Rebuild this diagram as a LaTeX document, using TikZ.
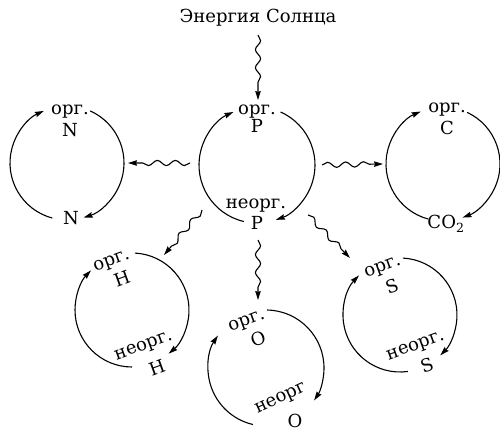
\documentclass[tikz,border=0pt]{standalone}
\usepackage{fontspec}
\setmainfont{DejaVu Serif}
\usetikzlibrary{arrows.meta,decorations.pathmorphing}
\begin{document}
\begin{tikzpicture}[x=1pt,y=1pt,
  lbl/.style={font=\fontsize{18}{20}\selectfont, inner sep=0pt},
  cyc/.style={line width=1.1pt, -{Stealth[length=9pt,width=5.5pt,inset=1pt]}},
  wave/.style={line width=1.1pt, decorate,
     decoration={snake, segment length=18pt, amplitude=2.6pt, post length=9pt},
     -{Stealth[length=9pt,width=5.5pt,inset=1pt]}}]
\useasboundingbox (0,0) rectangle (500,431);
% centres
\coordinate (cN) at (67,268);
\coordinate (cP) at (257,266);
\coordinate (cC) at (443,267);
\coordinate (cH) at (132,121);
\coordinate (cO) at (266,63);
\coordinate (cS) at (400,116);
% title
\node[lbl] (sun) at (258,413) {Энергия Солнца};
% N
\draw[cyc] (cN) ++(255:57) arc[start angle=255,end angle=114,radius=57];
\draw[cyc] (cN) ++(66:57) arc[start angle=66,end angle=-73,radius=57];
\node[lbl,anchor=base] (nN1) at (70,316) {орг.};
\node[lbl,anchor=base] (nN2) at (70,294) {N};
\node[lbl,anchor=base] (nN3) at (71,206) {N};
% P
\draw[cyc] (cP) ++(257:58) arc[start angle=257,end angle=114,radius=58];
\draw[cyc] (cP) ++(66:58) arc[start angle=66,end angle=-71,radius=58];
\node[lbl,anchor=base] (nP1) at (257,316) {орг.};
\node[lbl,anchor=base] (nP2) at (257,298) {P};
\node[lbl,anchor=base] (nP3) at (256,222) {неорг.};
\node[lbl,anchor=base] (nP4) at (257,201) {P};
% C
\draw[cyc] (cC) ++(255:57) arc[start angle=255,end angle=113,radius=57];
\draw[cyc] (cC) ++(65:57) arc[start angle=65,end angle=-70,radius=57];
\node[lbl,anchor=base] (nC1) at (447,318) {орг.};
\node[lbl,anchor=base] (nC2) at (447,296) {C};
\node[lbl,anchor=base] (nC3) at (446,202) {CO\textsubscript{2}};
% H
\draw[cyc] (cH) ++(270:57) arc[start angle=270,end angle=136,radius=57];
\draw[cyc] (cH) ++(87:57) arc[start angle=87,end angle=-50,radius=57];
\node[lbl,rotate=20] (nH1) at (112,169) {орг.};
\node[lbl,rotate=20] (nH2) at (122,152) {H};
\node[lbl,rotate=20] (nH3) at (144,84) {неорг.};
\node[lbl,rotate=20] (nH4) at (157,63) {H};
% O
\draw[cyc] (cO) ++(257:58) arc[start angle=257,end angle=146,radius=58];
\draw[cyc] (cO) ++(89:58) arc[start angle=89,end angle=-34,radius=58];
\node[lbl,rotate=20] (nO1) at (247,109) {орг.};
\node[lbl,rotate=20] (nO2) at (258,92) {O};
\node[lbl,rotate=25] (nO3) at (281,32) {неорг};
\node[lbl] (nO4) at (295,10) {O};
% S
\draw[cyc] (cS) ++(278:57) arc[start angle=278,end angle=136,radius=57];
\draw[cyc] (cS) ++(87:57) arc[start angle=87,end angle=-45,radius=57];
\node[lbl,rotate=20] (nS1) at (383,163) {орг.};
\node[lbl,rotate=20] (nS2) at (392,145) {S};
\node[lbl,rotate=20] (nS3) at (416,84) {неорг.};
\node[lbl,rotate=20] (nS4) at (427,66) {S};
% wavy arrows
\coordinate (wSa) at (258,396); \coordinate (wSb) at (258,331);
\coordinate (wNa) at (190,268); \coordinate (wNb) at (128,268);
\coordinate (wCa) at (322,266); \coordinate (wCb) at (383,267);
\coordinate (wHa) at (202,221); \coordinate (wHb) at (164,176);
\coordinate (wKa) at (308,216); \coordinate (wKb) at (350,173);
\coordinate (wOa) at (258,191); \coordinate (wOb) at (258,131);
\draw[wave] (wSa) -- (wSb);
\draw[wave] (wNa) -- (wNb);
\draw[wave] (wCa) -- (wCb);
\draw[wave] (wHa) -- (wHb);
\draw[wave] (wKa) -- (wKb);
\draw[wave] (wOa) -- (wOb);
\end{tikzpicture}
\end{document}
